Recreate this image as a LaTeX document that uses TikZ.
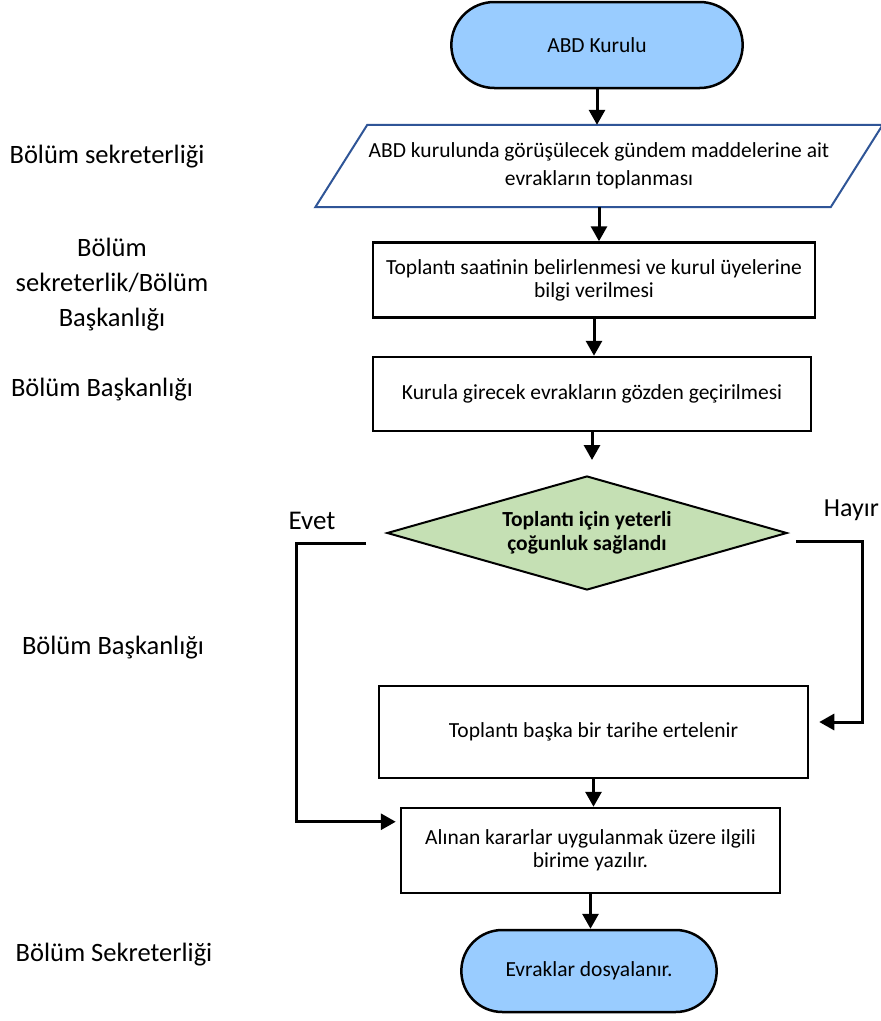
\documentclass[tikz,border=0pt]{standalone}
\usepackage{fontspec}
\setmainfont{Carlito}
\usepackage{xcolor}
\usepackage{tikz}
\usetikzlibrary{shapes.geometric,shapes.misc,arrows.meta,calc}

\definecolor{termblue}{RGB}{153,204,255}
\definecolor{decgreen}{RGB}{197,224,180}
\definecolor{ioblue}{RGB}{47,85,151}

\begin{document}
\begin{tikzpicture}[x=1pt,y=-1pt,
  flow/.style={line width=3pt,-{Triangle[length=15pt,width=16pt]}},
  term/.style={rounded rectangle,draw,line width=2.5pt,fill=termblue,font=\fontsize{21.5}{25}\selectfont},
  proc/.style={rectangle,draw,line width=2.5pt,fill=white,align=center,font=\fontsize{21.5}{23}\selectfont},
  role/.style={align=center,font=\fontsize{26.5}{35}\selectfont}]
% Page
\path[use as bounding box,fill=white] (0,0) rectangle (881,1021);
\clip (0,0) rectangle (881,1021);

% Roles
\node[role] (role1) at (107,157) {Bölüm sekreterliği};
\node[role] (role2) at (112,285) {Bölüm\\sekreterlik/Bölüm\\Başkanlığı};
\node[role] (role3) at (102,390) {Bölüm Başkanlığı};
\node[role] (role4) at (113,648) {Bölüm Başkanlığı};
\node[role] (role5) at (114,955) {Bölüm Sekreterliği};

% Flow
\node[term,minimum width=298pt,minimum height=86pt] (start) at (597,45) {ABD Kurulu};
\node[minimum width=515pt,minimum height=82pt,align=center,font=\fontsize{21.5}{28}\selectfont] (collect) at (599,166)
  {ABD kurulunda görüşülecek gündem maddelerine ait\\evrakların toplanması};
\draw[ioblue,line width=2pt] ($(collect.south west)+(-26,0)$) -- ($(collect.north west)+(26,0)$)
  -- ($(collect.north east)+(26,0)$) -- ($(collect.south east)+(-26,0)$) -- cycle;
\node[proc,minimum width=442pt,minimum height=75pt] (schedule) at (594,280)
  {Toplantı saatinin belirlenmesi ve kurul üyelerine\\bilgi verilmesi};
\node[proc,minimum width=438pt,minimum height=74pt] (review) at (592,394)
  {Kurula girecek evrakların gözden geçirilmesi};
\node[diamond,aspect=3.5,draw,line width=2pt,fill=decgreen,minimum width=400pt,minimum height=114pt,inner sep=0pt,
  align=center,font=\bfseries\fontsize{21.5}{24}\selectfont] (quorum) at (587,533)
  {Toplantı için yeterli\\çoğunluk sağlandı};
\node[proc,minimum width=429pt,minimum height=92pt] (postpone) at (593.5,732)
  {Toplantı başka bir tarihe ertelenir};
\node[proc,minimum width=379pt,minimum height=85pt] (notify) at (590.5,850.5)
  {Alınan kararlar uygulanmak üzere ilgili\\birime yazılır.};
\node[term,minimum width=262pt,minimum height=82pt] (archive) at (589,971) {Evraklar dosyalanır.};

% Arrows
\draw[flow] (start.south) -- (start.south |- collect.north);
\draw[flow] (collect.south) -- (collect.south |- schedule.north);
\draw[flow] (schedule.south) -- (schedule.south |- review.north);
\coordinate (qin) at ($(quorum.north)+(0,-15)$);
\draw[flow] (review.south) -- (review.south |- qin);
\draw[flow] (postpone.south) -- (postpone.south |- notify.north);
\draw[flow] (notify.south) -- (notify.south |- archive.north);

% Branches
\coordinate (yesturn) at (296,543);
\draw[flow] ($(quorum.west)+(-20,10)$) -- (yesturn) |- ($(notify.north west)+(-4,15)$);
\node[font=\fontsize{27}{30}\selectfont] (yes) at (312,521) {Evet};
\coordinate (noturn) at (862,541);
\draw[flow] ($(quorum.east)+(8,8)$) -- (noturn) |- ($(postpone.east)+(10,-10)$);
\node[anchor=east,inner sep=1pt,font=\fontsize{26}{30}\selectfont] (no) at (880,510) {Hayır};
\end{tikzpicture}
\end{document}
